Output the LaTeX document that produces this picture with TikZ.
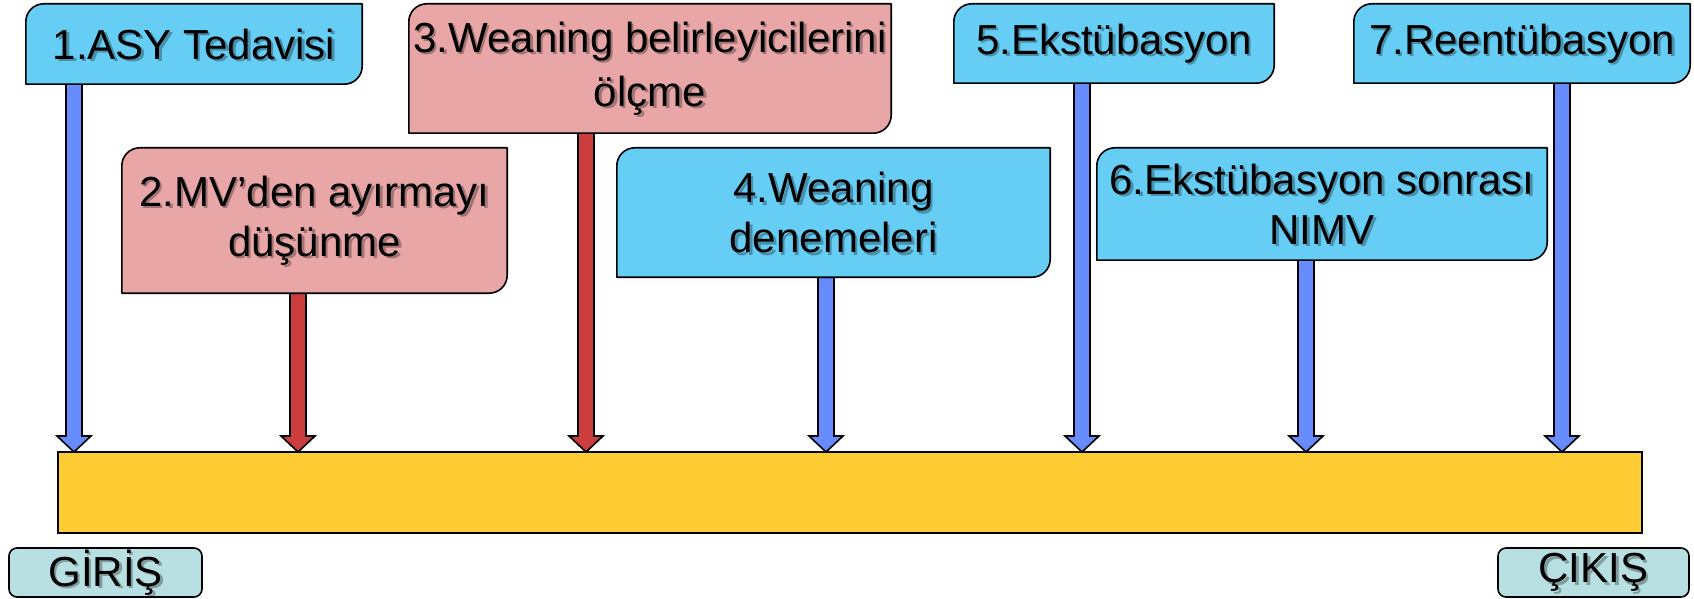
\documentclass[tikz,border=0pt]{standalone}
\usepackage{fontspec}
\setmainfont{Liberation Sans}
\usetikzlibrary{calc}
\pgfdeclarelayer{arrowlayer}
\pgfdeclarelayer{boxlayer}
\pgfsetlayers{arrowlayer,boxlayer,main}

\definecolor{cblue}{RGB}{102,206,245}
\definecolor{cpink}{RGB}{232,166,166}
\definecolor{cred}{RGB}{204,61,61}
\definecolor{carrow}{RGB}{102,140,255}
\definecolor{cyellow}{RGB}{255,204,51}
\definecolor{cteal}{RGB}{184,224,227}

\tikzset{
  holder/.style={rectangle, inner sep=0pt, draw=none},
  boxline/.style={draw=black, line width=1.6pt, line join=round},
  arrline/.style={draw=black, line width=1.6pt, line join=miter},
  txt/.style={inner sep=0pt, align=center, text=black,
    font=\fontsize{42pt}{50pt}\selectfont},
  txtshadow/.style={txt, text=black, text opacity=0.3},
  smallbox/.style={draw=black, line width=1.6pt, rounded corners=8pt, fill=cteal,
    inner sep=0pt, minimum width=#1, minimum height=49pt},
}

\newcommand\snipbox[2]{%
  \begin{pgfonlayer}{boxlayer}
  \draw[boxline, fill=#2] (#1.south west) -- ([yshift=-18pt]#1.north west)
    arc[start angle=180, end angle=90, radius=18pt] -- (#1.north east)
    -- ([yshift=18pt]#1.south east)
    arc[start angle=0, end angle=-90, radius=18pt] -- cycle;
  \end{pgfonlayer}}

\newcommand\boxtext[3]{%
  \node[txtshadow] (#1s) at ([xshift=2.5pt, yshift=-2.5pt]#2.center) {#3};
  \node[txt] (#1) at (#2.center) {#3};}

\newcommand\fatarrow[3]{%
  \begin{pgfonlayer}{arrowlayer}
  \draw[arrline, fill=#3] ($(#2 |- #1.south)+(-8,0)$) -- ($(#2)+(-8,16)$)
    -- ($(#2)+(-17,16)$) -- (#2) -- ($(#2)+(17,16)$) -- ($(#2)+(8,16)$)
    -- ($(#2 |- #1.south)+(8,0)$) -- cycle;
  \end{pgfonlayer}}

\begin{document}
\begin{tikzpicture}[x=1pt, y=1pt]
\useasboundingbox (0,0) rectangle (1694,598);

% yellow bar
\node[draw=black, line width=1.6pt, fill=cyellow, inner sep=0pt,
  minimum width=1584pt, minimum height=81pt] (bar) at (850,105.5) {};

% box holders
\node[holder, minimum width=336pt, minimum height=80pt]  (b1) at (194,554) {};
\node[holder, minimum width=385pt, minimum height=145pt] (b2) at (314.5,377.5) {};
\node[holder, minimum width=482pt, minimum height=129pt] (b3) at (650,529.5) {};
\node[holder, minimum width=433pt, minimum height=129pt] (b4) at (833.5,385.5) {};
\node[holder, minimum width=320pt, minimum height=79pt]  (b5) at (1114,554.5) {};
\node[holder, minimum width=450pt, minimum height=112pt] (b6) at (1322,394) {};
\node[holder, minimum width=336pt, minimum height=79pt]  (b7) at (1522,554.5) {};

\snipbox{b1}{cblue}
\snipbox{b2}{cpink}
\snipbox{b3}{cpink}
\snipbox{b4}{cblue}
\snipbox{b5}{cblue}
\snipbox{b6}{cblue}
\snipbox{b7}{cblue}

\boxtext{l1}{b1}{1.ASY Tedavisi}
\boxtext{l2}{b2}{2.MV’den ayırmayı\\düşünme}
\boxtext{l3}{b3}{3.Weaning belirleyicilerini\\[4pt]ölçme}
\boxtext{l4}{b4}{4.Weaning\\denemeleri}
\boxtext{l5}{b5}{5.Ekstübasyon}
\boxtext{l6}{b6}{6.Ekstübasyon sonrası\\NIMV}
\boxtext{l7}{b7}{7.Reentübasyon}

% arrow tips on the bar
\coordinate (t1) at (74,146);
\coordinate (t2) at (298,146);
\coordinate (t3) at (586,146);
\coordinate (t4) at (826,146);
\coordinate (t5) at (1082,146);
\coordinate (t6) at (1306,146);
\coordinate (t7) at (1562,146);

\fatarrow{b1}{t1}{carrow}
\fatarrow{b2}{t2}{cred}
\fatarrow{b3}{t3}{cred}
\fatarrow{b4}{t4}{carrow}
\fatarrow{b5}{t5}{carrow}
\fatarrow{b6}{t6}{carrow}
\fatarrow{b7}{t7}{carrow}

% entry / exit
\node[smallbox=193pt] (giris) at (105.5,25.5) {};
\boxtext{lg}{giris}{GİRİŞ}
\node[smallbox=191pt] (cikis) at (1593.5,25.5) {};
\boxtext{lc}{cikis}{ÇIKIŞ}
\end{tikzpicture}
\end{document}
